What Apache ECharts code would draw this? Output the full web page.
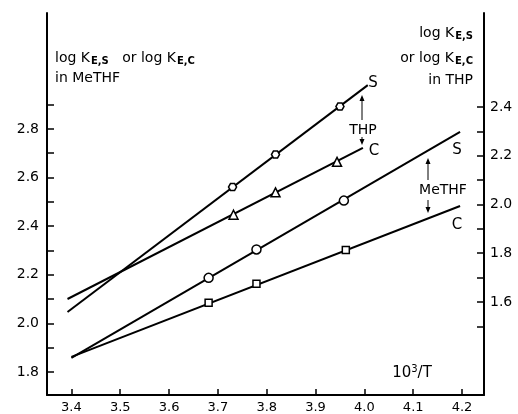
<!DOCTYPE html>
<html>
<head>
<meta charset="utf-8">
<script src="https://cdn.jsdelivr.net/npm/echarts@6/dist/echarts.min.js"></script>
<style>
  html, body { margin: 0; padding: 0; background: #fff; }
  #main { width: 518px; height: 414px; }
</style>
</head>
<body>
<div id="main"></div>
<script>
// x = 10^3/T ; THP lines on right axis, MeTHF lines on left axis
var thpSFit = [[3.392, 1.559], [4.007, 2.49]];
var thpSPts = [[3.73, 2.072], [3.818, 2.205], [3.95, 2.402]];
var thpCFit = [[3.392, 1.612], [3.997, 2.232]];
var thpCPts = [[3.732, 1.958], [3.818, 2.05], [3.944, 2.175]];
var methfSFit = [[3.4, 1.858], [4.196, 2.788]];
var methfSPts = [[3.681, 2.187], [3.779, 2.304], [3.958, 2.505]];
var methfCFit = [[3.4, 1.862], [4.196, 2.483]];
var methfCPts = [[3.681, 2.085], [3.779, 2.163], [3.962, 2.302]];

var xTicks = [3.4, 3.5, 3.6, 3.7, 3.8, 3.9, 4.0, 4.1, 4.2];
var leftLabels = [1.8, 2.0, 2.2, 2.4, 2.6, 2.8];
var leftTicks = [1.8, 1.9, 2.0, 2.1, 2.2, 2.3, 2.4, 2.5, 2.6, 2.7, 2.8, 2.9];
var rightLabels = [1.6, 1.8, 2.0, 2.2, 2.4];
var rightTicks = [1.5, 1.6, 1.7, 1.8, 1.9, 2.0, 2.1, 2.2, 2.3, 2.4];

var FONT = 'DejaVu Sans';
var hexagon = 'path://M2,0 L6,0 L8,3.5 L6,7 L2,7 L0,3.5 Z';

var chart = echarts.init(document.getElementById('main'));

function fitLine(data, axis) {
  return {
    type: 'line', data: data, yAxisIndex: axis, symbol: 'none',
    lineStyle: { color: '#000', width: 2 }, z: 2, animation: false
  };
}
function pts(data, axis, symbol, size) {
  return {
    type: 'scatter', data: data, yAxisIndex: axis, symbol: symbol, symbolSize: size,
    itemStyle: { color: '#fff', borderColor: '#000', borderWidth: 1.5, opacity: 1 },
    z: 3, animation: false
  };
}

var sub = { fontSize: 10, fontWeight: 'bold', padding: [6, 0, 0, 1], fontFamily: FONT, fill: '#000' };
var main = { fontSize: 14, fontFamily: FONT, fill: '#000' };

function txt(x, y, text, align, size) {
  return {
    type: 'text', x: x, y: y, z: 10,
    style: { text: text, fontSize: size || 14, fontFamily: FONT, fill: '#000',
      align: align || 'center', verticalAlign: 'middle' }
  };
}
function richTxt(x, y, text, align) {
  return {
    type: 'text', x: x, y: y, z: 10,
    style: { text: text, align: align, verticalAlign: 'middle', fontSize: 14, fontFamily: FONT,
      fill: '#000', rich: { m: main, s: sub } }
  };
}
function seg(x, y1, y2) {
  return { type: 'line', shape: { x1: x, y1: y1, x2: x, y2: y2 }, style: { stroke: '#000', lineWidth: 1 } };
}
function head(x, y, dir) {
  return { type: 'polygon', shape: { points: [[x - 2.5, y - 6 * dir], [x, y], [x + 2.5, y - 6 * dir]] },
    style: { fill: '#000' } };
}

chart.setOption({
  animation: false,
  backgroundColor: '#fff',
  grid: { left: 47, right: 34, top: 13, bottom: 19 },
  xAxis: {
    type: 'value', min: 3.35, max: 4.245,
    axisLine: { lineStyle: { color: '#000', width: 2 } },
    axisTick: { inside: true, length: 6, lineStyle: { color: '#000', width: 1.5 }, customValues: xTicks },
    axisLabel: { customValues: xTicks, color: '#000', fontSize: 13, fontFamily: FONT, margin: 6,
      formatter: function (v) { return v.toFixed(1); } },
    splitLine: { show: false }
  },
  yAxis: [{
    type: 'value', min: 1.705, max: 3.277, position: 'left',
    axisLine: { show: true, lineStyle: { color: '#000', width: 2 } },
    axisTick: { inside: true, length: 7, lineStyle: { color: '#000', width: 1.5 }, customValues: leftTicks },
    axisLabel: { customValues: leftLabels, color: '#000', fontSize: 14, fontFamily: FONT, margin: 8,
      formatter: function (v) { return v.toFixed(1); } },
    splitLine: { show: false }
  }, {
    type: 'value', min: 1.218, max: 2.786, position: 'right',
    axisLine: { show: true, lineStyle: { color: '#000', width: 2 } },
    axisTick: { inside: true, length: 7, lineStyle: { color: '#000', width: 1.5 }, customValues: rightTicks },
    axisLabel: { customValues: rightLabels, color: '#000', fontSize: 14, fontFamily: FONT, margin: 6,
      formatter: function (v) { return v.toFixed(1); } },
    splitLine: { show: false }
  }],
  series: [
    fitLine(thpSFit, 1), pts(thpSPts, 1, hexagon, [8, 7]),
    fitLine(thpCFit, 1), pts(thpCPts, 1, 'triangle', 9),
    fitLine(methfSFit, 0), pts(methfSPts, 0, 'circle', 9),
    fitLine(methfCFit, 0), pts(methfCPts, 0, 'rect', 7)
  ],
  graphic: [
    richTxt(55, 58, '{m|log K}{s|E,S}{m|   or log K}{s|E,C}', 'left'),
    richTxt(55, 78, '{m|in MeTHF}', 'left'),
    richTxt(473, 33, '{m|log K}{s|E,S}', 'right'),
    richTxt(473, 58, '{m|or log K}{s|E,C}', 'right'),
    richTxt(473, 80, '{m|in THP}', 'right'),
    txt(373, 83, 'S', 'center', 15),
    txt(374, 151, 'C', 'center', 15),
    txt(363, 130, 'THP', 'center', 14),
    seg(362, 97, 120), head(362, 95, -1),
    seg(362, 137, 143), head(362, 145, 1),
    txt(443, 190, 'MeTHF', 'center', 14),
    seg(428, 160, 180), head(428, 158, -1),
    seg(428, 200, 211), head(428, 213, 1),
    txt(457, 150, 'S', 'center', 15),
    txt(457, 225, 'C', 'center', 15),
    {
      type: 'text', x: 412, y: 373, z: 10,
      style: { text: '{m|10}{u|3}{m|/T}', align: 'center', verticalAlign: 'middle', fontFamily: FONT,
        rich: { m: { fontSize: 15, fontFamily: FONT, fill: '#000' },
                u: { fontSize: 10, fontFamily: FONT, fill: '#000', padding: [0, 0, 7, 0] } } }
    }
  ]
});
</script>
</body>
</html>
